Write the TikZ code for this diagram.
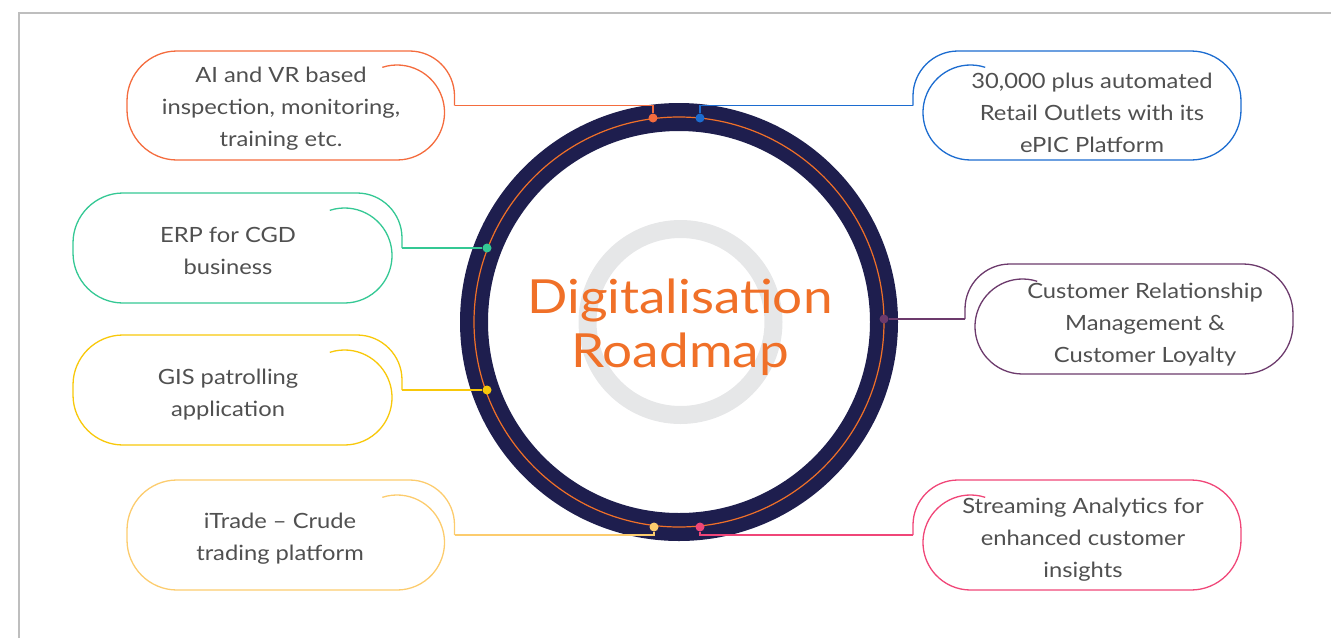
\documentclass[tikz,border=0pt]{standalone}
\usepackage{fontspec}
\setmainfont{Lato}[FakeStretch=1.13]
\usetikzlibrary{calc}
\definecolor{rmNavy}{RGB}{30,30,78}
\definecolor{rmOrange}{RGB}{240,112,40}
\definecolor{rmCoral}{RGB}{244,108,62}
\definecolor{rmBlue}{RGB}{28,108,208}
\definecolor{rmGreen}{RGB}{52,200,148}
\definecolor{rmGold}{RGB}{248,200,10}
\definecolor{rmSand}{RGB}{252,204,110}
\definecolor{rmPlum}{RGB}{108,58,108}
\definecolor{rmPink}{RGB}{240,70,120}
\definecolor{rmText}{RGB}{80,80,80}
\definecolor{rmHalo}{RGB}{230,231,232}
\definecolor{rmFrame}{RGB}{190,190,190}
\tikzset{
  podline/.style={line width=1.3pt,#1},
  podtext/.style={font=\fontsize{21}{32}\selectfont,text=rmText,align=center,inner sep=0pt},
  roadtitle/.style={font=\fontsize{47}{54}\selectfont,text=rmOrange,inner sep=0pt,anchor=base},
  podlink/.style={line width=1.3pt,#1},
  poddot/.style={circle,fill=#1,inner sep=0pt,minimum size=9pt},
}
\newcommand{\lpod}[6]{% #1 colour, #2 left x, #3 inner right x, #4 top y, #5 bottom y, #6 port
  \draw[podline=#1] ($({#3-47.5},{#5-47.5})+(-108:47.5)$) arc[start angle=-108,end angle=90,radius=47.5]
    -- ({#2+50},#5) arc[start angle=90,end angle=180,radius=50]
    -- (#2,{#4+50}) arc[start angle=180,end angle=270,radius=50]
    -- ({#3+10-45},#4) arc[start angle=270,end angle=360,radius=45]
    -- ({#3+10},{(#4+#5)/2}) coordinate (#6);}
\newcommand{\rpod}[6]{% #1 colour, #2 inner left x, #3 right x, #4 top y, #5 bottom y, #6 port
  \draw[podline=#1] ($({#2+47.5},{#5-47.5})+(288:47.5)$) arc[start angle=288,end angle=90,radius=47.5]
    -- ({#3-50},#5) arc[start angle=90,end angle=0,radius=50]
    -- (#3,{#4+50}) arc[start angle=0,end angle=-90,radius=50]
    -- ({#2-10+45},#4) arc[start angle=270,end angle=180,radius=45]
    -- ({#2-10},{(#4+#5)/2}) coordinate (#6);}
\begin{document}
\begin{tikzpicture}[x=1pt,y=-1pt]
\useasboundingbox (0,0) rectangle (1331,638);
% ---- page frame (top and left edges only)
\draw[rmFrame,line width=1.5pt] (19,638) -- (19,13) -- (1331,13);
% ---- central ring
\coordinate (hub) at (679,322);
\draw[rmNavy,line width=28pt] (hub) circle[radius=205];
\draw[rmOrange,line width=1.2pt] (hub) circle[radius=205];
\draw[rmHalo,line width=18pt] (680.5,322) circle[radius=93];
\node[roadtitle] (ttl1) at (680,313) {Digitalisation};
\node[roadtitle] (ttl2) at (680,367) {Roadmap};
% ---- pods: left column, then right column
\lpod{rmCoral}{127}{444.5}{51}{160}{pA}
\lpod{rmGreen}{73}{392}{193}{303}{pB}
\lpod{rmGold}{73}{392}{335}{445}{pC}
\lpod{rmSand}{127}{444.5}{480}{590}{pD}
\rpod{rmBlue}{923}{1241}{51}{160}{pE}
\rpod{rmPlum}{975}{1293}{264}{374}{pF}
\rpod{rmPink}{923}{1241}{480}{590}{pG}
% ---- dots on the orange track
\foreach \nm/\cl/\px/\py in {dA/rmCoral/653/118,dB/rmGreen/487/248,dC/rmGold/487/390,
  dD/rmSand/654/527,dE/rmBlue/700/118,dF/rmPlum/884/319,dG/rmPink/700/527}{
  \node[poddot=\cl] (\nm) at (\px,\py) {};}
% ---- links from track to pods
\draw[podlink=rmCoral] (dA) |- (pA);
\draw[podlink=rmGreen] (dB) -- (pB);
\draw[podlink=rmGold] (dC) -- (pC);
\draw[podlink=rmSand] (dD) |- (pD);
\draw[podlink=rmBlue] (dE) |- (pE);
\draw[podlink=rmPlum] (dF) -- (pF);
\draw[podlink=rmPink] (dG) |- (pG);
% ---- pod texts
\node[podtext] (tA) at (281,109) {AI and VR based\\inspection, monitoring,\\training etc.};
\node[podtext] (tB) at (228,251) {ERP for CGD\\business};
\node[podtext] (tC) at (228,395) {GIS patrolling\\application};
\node[podtext] (tD) at (280,539) {iTrade -- Crude\\trading platform};
\node[podtext] (tE) at (1092,113) {30,000 plus automated\\Retail Outlets with its\\ePIC Platform};
\node[podtext] (tF) at (1145,325) {Customer Relationship\\Management \&\\Customer Loyalty};
\node[podtext] (tG) at (1083,540) {Streaming Analytics for\\enhanced customer\\insights};
\end{tikzpicture}
\end{document}
